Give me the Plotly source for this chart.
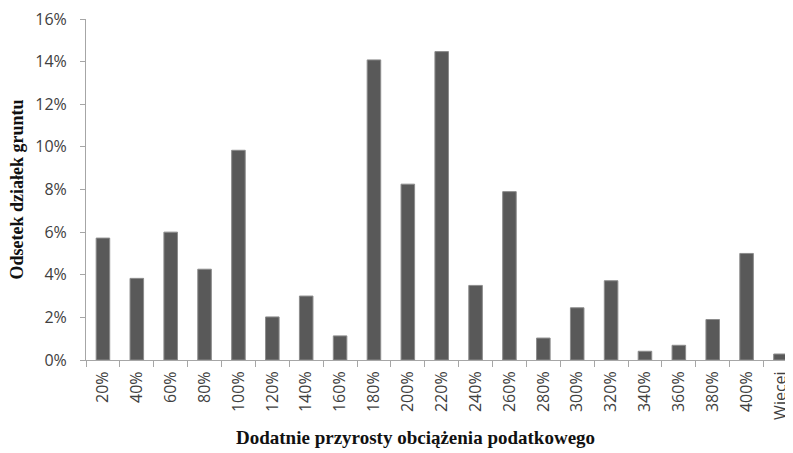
import plotly.graph_objects as go

categories = ["20%", "40%", "60%", "80%", "100%", "120%", "140%", "160%", "180%", "200%",
              "220%", "240%", "260%", "280%", "300%", "320%", "340%", "360%", "380%", "400%", "Więcej"]
values = [5.72, 3.83, 6.0, 4.26, 9.84, 2.02, 3.0, 1.13, 14.08, 8.25,
          14.47, 3.5, 7.9, 1.03, 2.45, 3.72, 0.41, 0.69, 1.9, 5.0, 0.28]
y_ticks = [0, 2, 4, 6, 8, 10, 12, 14, 16]
y_ticklabels = [f"{v}%" for v in y_ticks]

# page body has an 8px default margin, so the figure is sized to fit the window
L, R, T, B = 78, 0, 11, 93
W, H = 785, 445
pw, ph = W - L - R, H - T - B

fig = go.Figure(go.Bar(
    x=categories, y=values,
    marker=dict(color="#595959", line=dict(color="#8c8c8c", width=1)),
))

fig.update_layout(
    width=W, height=H,
    margin=dict(l=L, r=R, t=T, b=B),
    paper_bgcolor="white", plot_bgcolor="white",
    bargap=0.6,
    showlegend=False,
    font=dict(family="Open Sans, Liberation Sans, sans-serif", color="#404040"),
    xaxis=dict(
        type="category", range=[-0.5, 20.37], automargin=False,
        showline=True, linecolor="#a6a6a6", linewidth=1,
        ticks="outside", tickson="boundaries", ticklen=6, tickcolor="#a6a6a6",
        tickangle=-90, tickfont=dict(size=16, color="#404040"),
        ticklabelstandoff=4, ticklabeloverflow="allow",
        showgrid=False, zeroline=False,
    ),
    yaxis=dict(
        range=[0, 16], tickvals=y_ticks, ticktext=y_ticklabels, automargin=False,
        showline=True, linecolor="#a6a6a6", linewidth=1,
        ticks="outside", ticklen=5, tickcolor="#a6a6a6",
        tickfont=dict(size=16, color="#404040"),
        ticklabelstandoff=10, ticklabeloverflow="allow",
        showgrid=False, zeroline=False,
    ),
    annotations=[
        dict(
            text="<b>Dodatnie przyrosty obciążenia podatkowego</b>",
            xref="paper", yref="paper", x=(407 - L) / pw, y=(H - B - 429) / ph,
            xanchor="center", yanchor="middle", showarrow=False,
            font=dict(family="Liberation Serif, Times New Roman, serif", size=19, color="#111111"),
        ),
        dict(
            text="<b>Odsetek działek gruntu</b>",
            xref="paper", yref="paper", x=(8 - L) / pw, y=0.5,
            xanchor="center", yanchor="middle", showarrow=False, textangle=-90,
            font=dict(family="Liberation Serif, Times New Roman, serif", size=18, color="#111111"),
        ),
    ],
)

fig.write_html("out.html")
